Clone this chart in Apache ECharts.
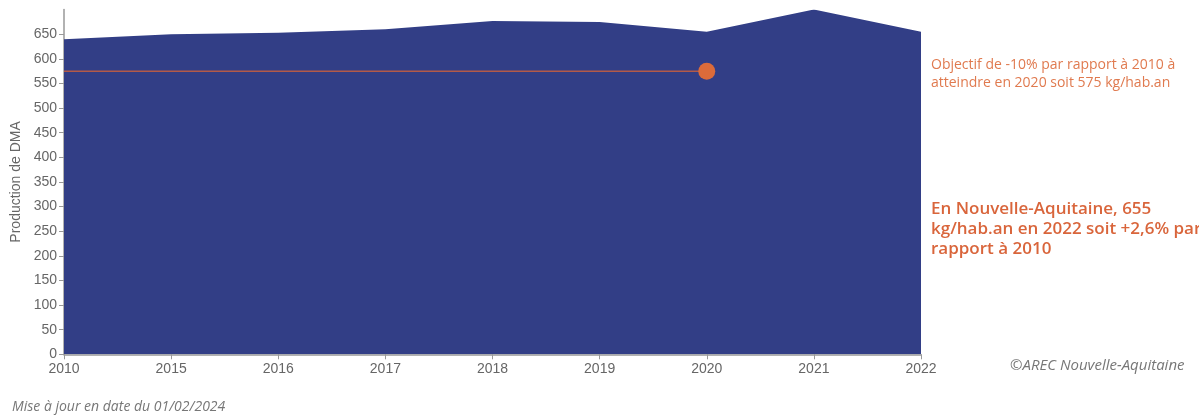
<!DOCTYPE html>
<html>
<head>
<meta charset="utf-8">
<script src="https://cdn.jsdelivr.net/npm/echarts@6/dist/echarts.min.js"></script>
<style>
    html, body { margin: 0; padding: 0; background: #fff; }
    #chart { width: 1199px; height: 419px; }
</style>
</head>
<body>
<div id="chart"></div>
<script>
    // données
    var years = ['2010', '2015', '2016', '2017', '2018', '2019', '2020', '2021', '2022'];
    var dma = [640, 650, 653, 660, 677, 675, 655, 700, 655];
    var objectif = [575, 575, 575, 575, 575, 575, 575, null, null];
    var yMax = 700;
    var yStep = 50;

    var chart = echarts.init(document.getElementById('chart'));

    // point final de l'objectif seulement
    var objectifData = objectif.map(function (v, i) {
        return {
            value: v,
            symbol: i === 6 ? 'circle' : 'none'
        };
    });

    var axisGrey = '#999999';
    var labelGrey = '#666666';

    var option = {
        animation: false,
        grid: {
            left: 64,
            right: 278,
            top: 9.6,
            bottom: 64.7,
            outerBoundsMode: 'none'
        },
        xAxis: {
            type: 'category',
            data: years,
            boundaryGap: false,
            axisLine: { lineStyle: { color: axisGrey, width: 1.5 } },
            axisTick: { alignWithLabel: true, length: 5, lineStyle: { color: axisGrey } },
            axisLabel: {
                color: labelGrey,
                fontFamily: 'Liberation Sans, Arial, sans-serif',
                fontSize: 14,
                margin: 8
            },
            splitLine: { show: false }
        },
        yAxis: {
            type: 'value',
            min: 0,
            max: yMax,
            interval: yStep,
            name: 'Production de DMA',
            nameLocation: 'middle',
            nameGap: 37,
            nameTextStyle: {
                color: labelGrey,
                fontFamily: 'Liberation Sans, Arial, sans-serif',
                fontSize: 14
            },
            axisLine: { show: true, lineStyle: { color: axisGrey, width: 1.5 } },
            axisTick: { show: true, length: 5, lineStyle: { color: axisGrey } },
            axisLabel: {
                color: labelGrey,
                fontFamily: 'Liberation Sans, Arial, sans-serif',
                fontSize: 14,
                margin: 7,
                showMaxLabel: false
            },
            splitLine: { show: false }
        },
        series: [{
            name: 'DMA',
            type: 'line',
            data: dma,
            symbol: 'none',
            lineStyle: { width: 0 },
            areaStyle: { color: '#323e86', opacity: 1 },
            z: 1
        }, {
            name: 'Objectif',
            type: 'line',
            data: objectifData,
            symbolSize: 17,
            lineStyle: { color: '#b35a48', width: 1.5 },
            itemStyle: { color: '#dc6b3a' },
            z: 3
        }],
        graphic: [{
            type: 'text',
            left: 931,
            top: 56,
            style: {
                text: 'Objectif de -10% par rapport à 2010 à\natteindre en 2020 soit 575 kg/hab.an',
                fill: '#e07a4f',
                font: '14px "Open Sans", sans-serif',
                lineHeight: 18
            }
        }, {
            type: 'text',
            left: 931,
            top: 199,
            style: {
                text: 'En Nouvelle-Aquitaine, 655\nkg/hab.an en 2022 soit +2,6% par\nrapport à 2010',
                fill: '#d9653b',
                font: '600 17px "Open Sans", sans-serif',
                lineHeight: 20
            }
        }, {
            type: 'text',
            left: 1010,
            top: 358,
            style: {
                text: '©AREC Nouvelle-Aquitaine',
                fill: '#777777',
                font: 'italic 15px "Open Sans", sans-serif'
            }
        }, {
            type: 'text',
            left: 12,
            top: 400,
            style: {
                text: 'Mise à jour en date du 01/02/2024',
                fill: '#777777',
                font: 'italic 14px "Open Sans", sans-serif'
            }
        }]
    };

    chart.setOption(option);
</script>
</body>
</html>
